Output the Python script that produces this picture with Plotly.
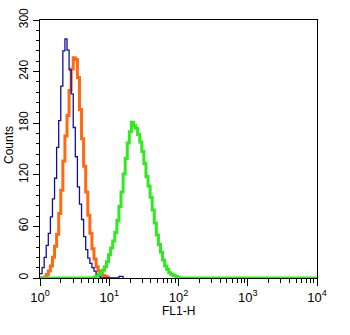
import plotly.graph_objects as go
import numpy as np

# Histogram bins in log10(FL1-H), step 0.03
STEP = 0.03
blue_start = 0.0
blue_counts = [5, 12, 24, 38, 52, 71, 92, 116, 152, 183, 223, 264, 278, 265, 242,
               214, 175, 141, 106, 86, 68, 48, 33, 23, 17, 12, 8, 4, 2, 0,
               0, 0, 0, 0, 0, 0, 0, 0, 2, 2, 0]
orange_start = 0.0
orange_counts = [0, 0, 1, 4, 8, 14, 24, 37, 51, 75, 102, 136, 165, 189, 218, 243,
                 256, 254, 233, 196, 162, 130, 100, 73, 52, 34, 22, 13, 8, 5, 3, 2, 1, 0]
green_start = 0.78
green_counts = [1, 2, 4, 6, 9, 13, 19, 27, 35, 43, 53, 67, 83, 100, 121, 139, 157,
                170, 181, 177, 174, 167, 158, 147, 133, 118, 107, 94, 79, 64, 50,
                39, 30, 21, 14, 10, 6, 4, 3, 2, 1, 0]

x_tickvals = [1, 10, 100, 1000, 10000]
x_ticktext = ["10<sup>0</sup>", "10<sup>1</sup>", "10<sup>2</sup>", "10<sup>3</sup>", "10<sup>4</sup>"]
y_tickvals = [0, 60, 120, 180, 240, 300]
x_title = "FL1-H"
y_title = "Counts"


def series(start, counts, pad_to_end=False):
    logs = start + STEP * np.arange(len(counts))
    xs = list(10 ** logs)
    ys = list(counts)
    if pad_to_end:
        xs = [1.0] + xs + [10 ** 4]
        ys = [0] + ys + [0]
    return xs, ys


fig = go.Figure()
bx, by = series(blue_start, blue_counts)
ox, oy = series(orange_start, orange_counts)
gx, gy = series(green_start, green_counts, pad_to_end=True)

fig.add_trace(go.Scatter(x=ox, y=oy, mode="lines", hoverinfo="skip",
                         line=dict(color="#FF6A10", width=3, shape="hv")))
fig.add_trace(go.Scatter(x=bx, y=by, mode="lines", hoverinfo="skip",
                         line=dict(color="#0E0EA6", width=1.3, shape="hv")))
fig.add_trace(go.Scatter(x=gx, y=gy, mode="lines", hoverinfo="skip",
                         line=dict(color="#2EEA1E", width=3, shape="hv")))

font = "Liberation Sans, Arial, sans-serif"
fig.update_layout(
    width=350, height=335,
    margin=dict(l=40, r=33, t=20, b=57),
    paper_bgcolor="white", plot_bgcolor="white",
    showlegend=False,
    font=dict(family=font, size=13, color="black"),
    xaxis=dict(
        type="log", range=[0, 4], automargin=False,
        tickvals=x_tickvals, ticktext=x_ticktext,
        ticks="outside", ticklen=7, tickwidth=1, tickcolor="black",
        showline=True, linecolor="black", linewidth=1, mirror=True,
        showgrid=False, zeroline=False, ticklabeloverflow="allow",
        minor=dict(ticks="outside", ticklen=4, tickcolor="black", dtick="D1", showgrid=False),
        tickfont=dict(size=13),
    ),
    yaxis=dict(
        range=[0, 300], automargin=False,
        tickvals=y_tickvals,
        tickangle=-90,
        ticks="outside", ticklen=6, tickwidth=1, tickcolor="black",
        showline=True, linecolor="black", linewidth=1, mirror=True,
        showgrid=False, zeroline=False, ticklabeloverflow="allow",
        minor=dict(ticks="outside", ticklen=3, tickcolor="black", dtick=12, showgrid=False),
        tickfont=dict(size=12),
    ),
    annotations=[
        dict(text=y_title, textangle=-90, xref="paper", yref="paper", x=0, y=0.5,
             xanchor="center", yanchor="middle", xshift=-31, yshift=4, showarrow=False,
             font=dict(size=12)),
        dict(text=x_title, xref="paper", yref="paper", x=0.5, y=0,
             xanchor="center", yanchor="middle", yshift=-33, showarrow=False,
             font=dict(size=12)),
    ],
)

fig.write_html("out.html", config={"displayModeBar": False, "staticPlot": True},
               post_script="document.body.style.margin='0';document.body.style.overflow='hidden';")
